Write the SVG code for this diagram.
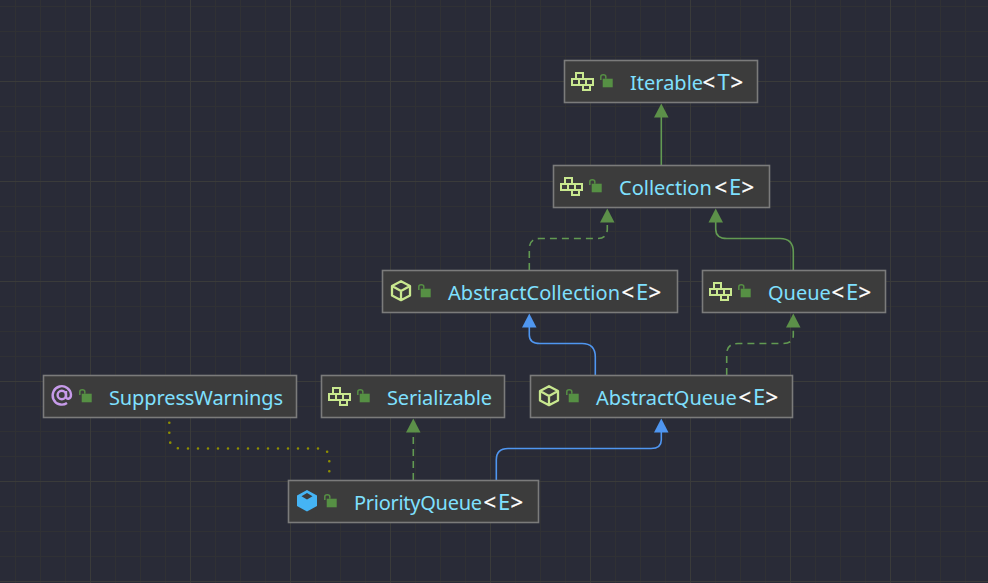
<svg xmlns="http://www.w3.org/2000/svg" xmlns:xlink="http://www.w3.org/1999/xlink" width="988" height="583" viewBox="0 0 988 583">
<style>
.box{fill:#3c3c3c;stroke:#7b7b7b;stroke-width:1.6}
.t{font-family:"Noto Sans","Open Sans",sans-serif;font-size:20px;fill:#7fe0ff}
.w{fill:#ffffff;font-size:22px;stroke:#ffffff;stroke-width:.3}
.e{font-size:22px}
.c{fill:none;stroke-width:1.6}
.g{stroke:#629a52}
.b{stroke:#4f96f0}
.d{stroke-dasharray:7 5}
.ag{fill:#5c9049}
.ab{fill:#4f96f0}
.dot{fill:none;stroke:#8f8f00;stroke-width:2.6;stroke-linecap:round;stroke-dasharray:0 10}
</style>
<defs>
<pattern id="minor" width="25" height="25" patternUnits="userSpaceOnUse" x="15" y="6">
<path d="M0.5 0V25M0 0.5H25" fill="none" stroke="#303134" stroke-width="1"/>
</pattern>
<pattern id="major" width="100" height="100" patternUnits="userSpaceOnUse" x="90" y="81">
<path d="M0.5 0V100M0 0.5H100" fill="none" stroke="#3a3b3a" stroke-width="1"/>
</pattern>
<g id="iface" fill="none" stroke="#c9e88f" stroke-width="2">
<rect x="5" y="1" width="7" height="6"/>
<rect x="1" y="7" width="7" height="6"/>
<rect x="8" y="7" width="7" height="6"/>
<rect x="15" y="7" width="7" height="6"/>
<rect x="12" y="13" width="7" height="5"/>
</g>
<g id="abs" fill="none" stroke="#c9e88f" stroke-width="2.3" stroke-linejoin="round">
<path d="M10 1.2L19 6V15.5L10 20.2L1 15.5V6ZM1 6L10 11L19 6M10 11V20.2"/>
</g>
<g id="cls">
<path d="M10 0L20 5.5V16L10 21.5L0 16V5.5Z" fill="#45b4f4"/>
<path d="M10 3L15.5 6.2L10 9.4L4.5 6.2Z" fill="#3c3c3c"/>
</g>
<g id="at" fill="none" stroke="#c79bea" stroke-width="2.4">
<circle cx="10.8" cy="10.5" r="4.2"/>
<path d="M15 6.5V12C15 15.5 20 15 20 10.2A9.2 9.2 0 1 0 16 18.5"/>
</g>
<g id="lock">
<rect x="2.7" y="4.7" width="10" height="8.6" fill="#569044"/>
<path d="M0.8 6V2.8C0.8 0 5.8 0 5.8 2.8V4.7" fill="none" stroke="#569044" stroke-width="1.5"/>
</g>
</defs>
<rect width="988" height="583" fill="#292b37"/>
<rect width="988" height="583" fill="url(#minor)"/>
<rect width="988" height="583" fill="url(#major)"/>

<g id="connectors">
<path class="c g" d="M661.3 165V117"/>
<polygon class="ag" points="661.3,103.5 668.5,117.5 654,117.5"/>
<path class="c g d" d="M529.3 270V249Q529.3 238.5 540 238.5H597Q607.3 238.5 607.3 229V221"/>
<polygon class="ag" points="607.3,208.5 614.5,222.5 600,222.5"/>
<path class="c g" d="M793.3 270V252Q793.3 238.5 780 238.5H727Q715.7 238.5 715.7 229V221"/>
<polygon class="ag" points="715.7,208.5 723,222.5 708.5,222.5"/>
<path class="c b" d="M595.3 375V357Q595.3 343.5 582 343.5H540Q529.3 343.5 529.3 335V326"/>
<polygon class="ab" points="529.3,313.5 536.5,327.5 522,327.5"/>
<path class="c g d" d="M726.7 375V354Q726.7 343.5 738 343.5H783Q793.3 343.5 793.3 335V326"/>
<polygon class="ag" points="793.3,313.5 800.5,327.5 786,327.5"/>
<path class="c g d" d="M413.3 480V431"/>
<polygon class="ag" points="413.3,418.5 420.5,432.5 406,432.5"/>
<path class="c b" d="M496.3 480V460Q496.3 448.5 508 448.5H651Q661.3 448.5 661.3 440V431"/>
<polygon class="ab" points="661.3,418.5 668.5,432.5 654,432.5"/>
<path class="dot" d="M169.3 422.7V437Q169.3 448.5 181 448.5H318.5Q329.3 448.5 329.3 459V473"/>
</g>

<g id="iterable">
<rect class="box" x="564.5" y="60.5" width="193" height="42"/>
<use xlink:href="#iface" href="#iface" x="571" y="72"/>
<use xlink:href="#lock" href="#lock" x="600" y="74"/>
<text class="t" x="630" y="90">Iterable<tspan class="w" x="702.5">&lt;</tspan><tspan class="e" x="717.5">T</tspan><tspan class="w" x="730.5">&gt;</tspan></text>
</g>
<g id="collection">
<rect class="box" x="553.5" y="165.5" width="216" height="42"/>
<use xlink:href="#iface" href="#iface" x="560" y="177"/>
<use xlink:href="#lock" href="#lock" x="589" y="179"/>
<text class="t" x="619" y="195">Collection<tspan class="w" x="714.5">&lt;</tspan><tspan class="e" x="729">E</tspan><tspan class="w" x="741.5">&gt;</tspan></text>
</g>
<g id="abstractcollection">
<rect class="box" x="382.5" y="270.5" width="295" height="42"/>
<use xlink:href="#abs" href="#abs" x="391" y="280"/>
<use xlink:href="#lock" href="#lock" x="418" y="284"/>
<text class="t" x="448" y="300" textLength="172" lengthAdjust="spacing">AbstractCollection</text>
<text class="t" y="300"><tspan class="w" x="621.5">&lt;</tspan><tspan class="e" x="636">E</tspan><tspan class="w" x="648.5">&gt;</tspan></text>
</g>
<g id="queue">
<rect class="box" x="702.5" y="270.5" width="183" height="42"/>
<use xlink:href="#iface" href="#iface" x="709" y="282"/>
<use xlink:href="#lock" href="#lock" x="738" y="284"/>
<text class="t" x="768" y="300">Queue<tspan class="w" x="831.5">&lt;</tspan><tspan class="e" x="846">E</tspan><tspan class="w" x="858.5">&gt;</tspan></text>
</g>
<g id="suppresswarnings">
<rect class="box" x="43.5" y="375.5" width="253" height="42"/>
<use xlink:href="#at" href="#at" x="51" y="384.5"/>
<use xlink:href="#lock" href="#lock" x="79" y="389"/>
<text class="t" x="109" y="405" textLength="174" lengthAdjust="spacing">SuppressWarnings</text>
</g>
<g id="serializable">
<rect class="box" x="321.5" y="375.5" width="183" height="42"/>
<use xlink:href="#iface" href="#iface" x="328" y="387"/>
<use xlink:href="#lock" href="#lock" x="357" y="389"/>
<text class="t" x="387" y="405" textLength="105" lengthAdjust="spacing">Serializable</text>
</g>
<g id="abstractqueue">
<rect class="box" x="530.5" y="375.5" width="262" height="42"/>
<use xlink:href="#abs" href="#abs" x="539" y="385"/>
<use xlink:href="#lock" href="#lock" x="566" y="389"/>
<text class="t" x="596" y="405">AbstractQueue<tspan class="w" x="738.5">&lt;</tspan><tspan class="e" x="753">E</tspan><tspan class="w" x="765.5">&gt;</tspan></text>
</g>
<g id="priorityqueue">
<rect class="box" x="288.5" y="480.5" width="250" height="42"/>
<use xlink:href="#cls" href="#cls" x="297" y="490"/>
<use xlink:href="#lock" href="#lock" x="324" y="494"/>
<text class="t" x="354" y="510" textLength="128" lengthAdjust="spacing">PriorityQueue</text>
<text class="t" y="510"><tspan class="w" x="483.5">&lt;</tspan><tspan class="e" x="498">E</tspan><tspan class="w" x="510.5">&gt;</tspan></text>
</g>
</svg>
